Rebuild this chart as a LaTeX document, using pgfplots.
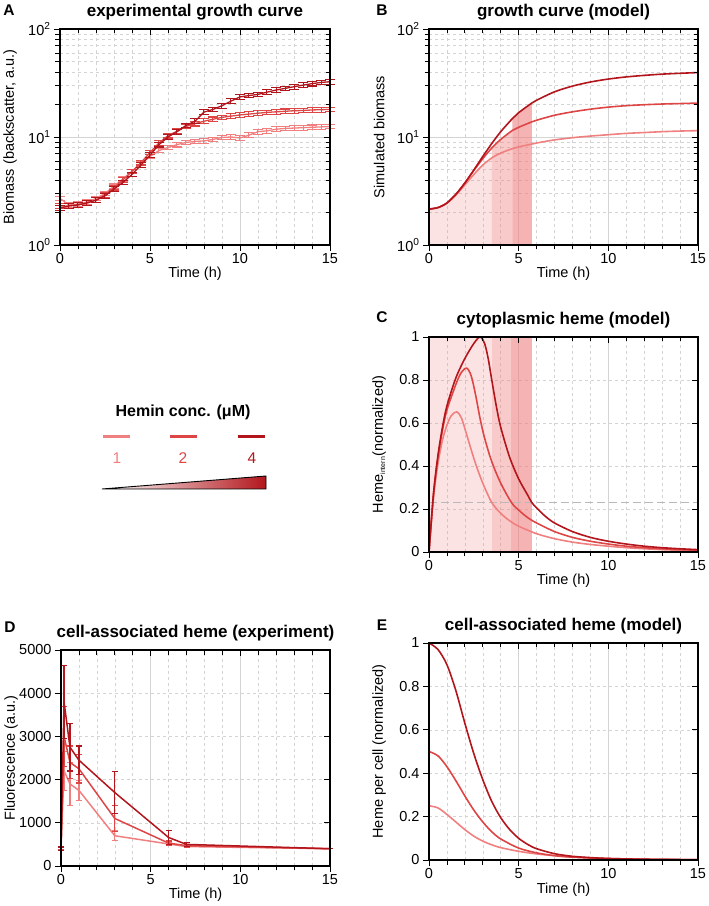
\documentclass[border=0pt]{standalone}
\usepackage{fontspec}
\setmainfont{Liberation Sans}
\usepackage{pgfplots}
\usepackage{pgfplotstable}
\pgfplotsset{compat=1.18}

\definecolor{cA}{RGB}{240,128,128}
\definecolor{cB}{RGB}{222,70,70}
\definecolor{cC}{RGB}{178,22,28}
\definecolor{gridc}{RGB}{212,212,212}
\definecolor{thr}{RGB}{185,185,185}

% ---------- Panel A data (t, value, relative error) ----------
\pgfplotstableread{
t v e
0 2.2 0.05
0.5 2.3 0.05
1 2.35 0.05
1.5 2.45 0.05
2 2.6 0.05
2.5 2.85 0.05
3 3.3 0.05
3.5 3.8 0.05
4 4.5 0.05
4.5 5.5 0.05
5 6.8 0.05
5.5 8.5 0.05
6 10.0 0.05
6.5 11.2 0.05
7 12.8 0.05
7.5 14.0 0.05
8 17.0 0.05
8.5 18.0 0.05
9 19.5 0.05
9.5 21.5 0.05
10 23.5 0.05
10.5 24.2 0.05
11 24.8 0.05
11.5 26.0 0.05
12 27.2 0.05
12.5 28.2 0.05
13 29.2 0.05
13.5 30.2 0.05
14 31.2 0.05
14.5 32.0 0.05
15 32.5 0.05
}\Adark
\pgfplotstableread{
t v e
0 2.3 0.05
0.5 2.3 0.05
1 2.35 0.05
1.5 2.45 0.05
2 2.6 0.05
2.5 2.9 0.05
3 3.4 0.05
3.5 4.0 0.05
4 4.8 0.05
4.5 5.8 0.05
5 7.2 0.05
5.5 8.8 0.05
6 10.3 0.05
6.5 11.3 0.05
7 12.5 0.05
7.5 13.3 0.05
8 14.0 0.05
8.5 14.6 0.05
9 15.2 0.05
9.5 15.6 0.05
10 16.0 0.05
10.5 16.3 0.05
11 16.6 0.05
11.5 16.9 0.05
12 17.1 0.05
12.5 17.3 0.05
13 17.5 0.05
13.5 17.6 0.05
14 17.8 0.05
14.5 17.9 0.05
15 18.0 0.05
}\Amed
\pgfplotstableread{
t v e
0 2.7 0.05
0.5 2.35 0.05
1 2.4 0.05
1.5 2.5 0.05
2 2.7 0.05
2.5 3.0 0.05
3 3.5 0.05
3.5 4.1 0.05
4 4.8 0.05
4.5 5.7 0.05
5 6.6 0.05
5.5 7.5 0.05
6 8.0 0.05
6.5 8.5 0.05
7 8.9 0.05
7.5 9.1 0.05
8 9.2 0.05
8.5 9.5 0.05
9 9.9 0.05
9.5 10.0 0.05
10 9.8 0.05
10.5 10.4 0.05
11 11.2 0.05
11.5 11.4 0.05
12 11.8 0.05
12.5 12.0 0.05
13 12.1 0.05
13.5 12.2 0.05
14 12.3 0.05
14.5 12.4 0.05
15 12.5 0.05
}\Alight

% ---------- Panel B data ----------
\pgfplotstableread{
t v
0 2.15
0.5 2.22
1 2.45
1.5 2.95
2 3.75
2.5 4.95
3 6.6
3.5 8.7
4 11.2
4.65 14.8
5 16.8
5.73 20.6
6 21.9
7 26.2
8 29.6
9 32.3
10 34.4
11 36.0
12 37.2
13 38.2
14 38.9
15 39.5
}\Bdark
\pgfplotstableread{
t v
0 2.15
0.5 2.22
1 2.45
1.5 2.95
2 3.75
2.5 4.9
3 6.3
3.5 7.9
4 9.5
4.65 11.5
5 12.3
5.73 13.8
6 14.3
7 15.9
8 17.1
9 18.1
10 18.9
11 19.5
12 19.9
13 20.2
14 20.4
15 20.6
}\Bmed
\pgfplotstableread{
t v
0 2.15
0.5 2.22
1 2.44
1.5 2.9
2 3.6
2.5 4.5
3 5.5
3.5 6.4
4 7.1
4.65 7.8
5 8.1
5.73 8.6
6 8.8
7 9.4
8 9.85
9 10.2
10 10.5
11 10.8
12 11.0
13 11.2
14 11.35
15 11.45
}\Blight

% ---------- Panel C data ----------
\pgfplotstableread{
t v
0 0
0.25 0.27
0.5 0.45
0.75 0.58
1 0.68
1.5 0.81
2 0.9
2.5 0.97
2.85 1.0
3.1 0.97
3.3 0.9
3.5 0.8
3.75 0.68
4 0.58
4.5 0.44
5 0.34
5.5 0.265
5.73 0.23
6 0.205
6.5 0.165
7 0.135
8 0.095
9 0.068
10 0.05
11 0.037
12 0.027
13 0.02
14 0.015
15 0.011
}\Cdark
\pgfplotstableread{
t v
0 0
0.25 0.27
0.5 0.44
0.75 0.565
1 0.66
1.5 0.78
1.8 0.835
2.1 0.855
2.35 0.82
2.6 0.73
2.85 0.62
3.1 0.53
3.5 0.42
4 0.32
4.6 0.23
5 0.195
5.5 0.16
6 0.135
7 0.095
8 0.068
9 0.05
10 0.037
11 0.027
12 0.02
13 0.015
14 0.011
15 0.008
}\Cmed
\pgfplotstableread{
t v
0 0
0.25 0.25
0.5 0.41
0.75 0.52
1 0.59
1.25 0.635
1.55 0.652
1.8 0.625
2.05 0.56
2.3 0.49
2.6 0.41
3 0.32
3.5 0.23
4 0.18
4.5 0.145
5 0.12
6 0.085
7 0.062
8 0.046
9 0.035
10 0.027
11 0.02
12 0.015
13 0.011
14 0.008
15 0.006
}\Clight

% ---------- Panel E data ----------
\pgfplotstableread{
t v
0 1.0
0.5 0.97
1 0.9
1.5 0.78
2 0.63
2.5 0.49
3 0.37
3.5 0.27
4 0.195
4.5 0.14
5 0.1
5.5 0.072
6 0.052
7 0.029
8 0.017
9 0.011
10 0.007
12 0.0035
15 0.0015
}\Edark
\pgfplotstableread{
t v
0 0.5
0.5 0.48
1 0.43
1.5 0.365
2 0.295
2.5 0.23
3 0.175
3.5 0.13
4 0.097
5 0.055
6 0.033
7 0.02
8 0.013
10 0.006
12 0.003
15 0.0012
}\Emed
\pgfplotstableread{
t v
0 0.25
0.5 0.24
1 0.21
1.5 0.175
2 0.14
2.5 0.11
3 0.087
3.5 0.07
4 0.057
5 0.04
6 0.028
7 0.02
8 0.014
10 0.007
12 0.0035
15 0.0012
}\Elight

\pgfkeys{/pgf/number format/assume math mode=true, /pgf/number format/1000 sep={}}

\pgfplotsset{
  myframe/.style={
    scale only axis,
    anchor=south west,
    xmin=0, xmax=15,
    xtick={0,5,10,15},
    minor x tick num=4,
    axis line style={line width=1.1pt},
    major tick style={black, line width=0.9pt},
    minor tick style={black, line width=0.8pt},
    major tick length=6pt, minor tick length=4.5pt,
    clip=false,
  },
  mypanel/.style={
    myframe,
    tick align=outside,
    xtick pos=left, ytick pos=left,
    xmajorgrids, xminorgrids,
    major grid style={gridc, line width=0.6pt},
    minor grid style={gridc, dash pattern=on 3pt off 3pt, line width=0.5pt},
    tick label style={font=\fontsize{14.5}{16}\selectfont},
    xticklabel style={yshift=1pt},
    label style={font=\fontsize{14.5}{16}\selectfont},
    every axis title/.style={at={(axis description cs:0.5,1.078)}, anchor=center,
      font=\bfseries\fontsize{17}{19}\selectfont},
    xlabel={Time (h)},
    xlabel style={at={(axis description cs:0.5,-0.135)}, anchor=center},
    ylabel style={at={(axis description cs:-0.185,0.5)}, anchor=center},
  },
  mymirror/.style={
    myframe,
    tick align=inside,
    xtick pos=right, ytick pos=right,
    xticklabel={\relax}, yticklabel={\relax},
  },
  mylogticks/.style={
    ymin=1, ymax=100,
    ytick={1,10,100},
  },
  mylin/.style={
    ymin=0, ymax=1,
    ytick={0,0.2,0.4,0.6,0.8,1},
  },
  crv/.style={line width=1.6pt, smooth},
  ebA/.style={#1, line width=1.3pt, error bars/.cd, y dir=both, y explicit relative,
    error bar style={draw=#1, line width=1pt},
    error mark options={draw=#1, fill=#1, rotate=90, line width=1.1pt, mark size=5pt}},
  ebD/.style={#1, line width=1.5pt, error bars/.cd, y dir=both, y explicit,
    error bar style={draw=#1, line width=1.2pt},
    error mark options={draw=#1, fill=#1, rotate=90, line width=1.2pt, mark size=3pt}},
}

\begin{document}
\begin{tikzpicture}[x=1pt,y=1pt]
\path[use as bounding box] (0,0) rectangle (709,906);

% ================= A =================
\begin{axis}[ymode=log, mypanel, mylogticks, at={(60pt,661pt)}, width=270pt, height=216pt,
  yticklabels={10\textsuperscript{0},10\textsuperscript{1},10\textsuperscript{2}},
  ymajorgrids, yminorgrids,
  title={experimental growth curve},
  ylabel={Biomass (backscatter, a.u.)}]
\addplot[ebA=cA] table[x=t, y=v, y error=e] {\Alight};
\addplot[ebA=cB] table[x=t, y=v, y error=e] {\Amed};
\addplot[ebA=cC] table[x=t, y=v, y error=e] {\Adark};
\end{axis}
\begin{axis}[ymode=log, mymirror, mylogticks, at={(60pt,661pt)}, width=270pt, height=216pt]
\end{axis}

% ================= B =================
\begin{axis}[ymode=log, mypanel, mylogticks, at={(429pt,661pt)}, width=269pt, height=216pt,
  yticklabels={10\textsuperscript{0},10\textsuperscript{1},10\textsuperscript{2}},
  ymajorgrids, yminorgrids,
  title={growth curve (model)},
  ylabel={Simulated biomass}]
\addplot[draw=none, fill=cA, fill opacity=0.22] coordinates
  {(0,1) (0,2.15) (0.5,2.22) (1,2.44) (1.5,2.9) (2,3.6) (2.5,4.5) (3,5.5) (3.5,6.4) (3.5,1)} -- cycle;
\addplot[draw=none, fill=cA, fill opacity=0.42] coordinates
  {(3.5,1) (3.5,7.9) (4,9.5) (4.65,11.5) (4.65,1)} -- cycle;
\addplot[draw=none, fill=cA, fill opacity=0.6] coordinates
  {(4.65,1) (4.65,14.8) (5,16.8) (5.73,20.6) (5.73,1)} -- cycle;
\addplot[cA, crv] table[x=t,y=v] {\Blight};
\addplot[cB, crv] table[x=t,y=v] {\Bmed};
\addplot[cC, crv] table[x=t,y=v] {\Bdark};
\end{axis}
\begin{axis}[ymode=log, mymirror, mylogticks, at={(429pt,661pt)}, width=269pt, height=216pt]
\end{axis}

% ================= C =================
\begin{axis}[mypanel, mylin, at={(429pt,354pt)}, width=269pt, height=215pt,
  minor ytick={0.2,0.4,0.6,0.8}, yminorgrids,
  title={cytoplasmic heme (model)},
  ylabel={Heme\textsubscript{\fontsize{7}{7}\selectfont intern}(normalized)}]
\addplot[draw=none, fill=cA, fill opacity=0.22] coordinates {(0,0) (0,1) (3.5,1) (3.5,0)} -- cycle;
\addplot[draw=none, fill=cA, fill opacity=0.42] coordinates {(3.5,0) (3.5,1) (4.6,1) (4.6,0)} -- cycle;
\addplot[draw=none, fill=cA, fill opacity=0.6] coordinates {(4.6,0) (4.6,1) (5.73,1) (5.73,0)} -- cycle;
\addplot[thr, line width=1.3pt, dash pattern=on 8pt off 4pt] coordinates {(0,0.23) (15,0.23)};
\addplot[cA, crv] table[x=t,y=v] {\Clight};
\addplot[cB, crv] table[x=t,y=v] {\Cmed};
\addplot[cC, crv] table[x=t,y=v] {\Cdark};
\end{axis}
\begin{axis}[mymirror, mylin, at={(429pt,354pt)}, width=269pt, height=215pt]
\end{axis}

% ================= D =================
\begin{axis}[mypanel, at={(61pt,40pt)}, width=269pt, height=216pt,
  ymin=0, ymax=5000, ytick={0,1000,2000,3000,4000,5000},
  minor ytick={1000,2000,3000,4000}, yminorgrids,
  title={cell-associated heme (experiment)},
  ylabel={Fluorescence (a.u.)}]
\addplot[ebD=cA]
  coordinates {(0,400) +- (0,30) (0.17,2200) +- (0,450) (0.5,1900) +- (0,500) (1,1750) +- (0,230)
               (3,700) +- (0,110) (6,510) +- (0,40) (7,450) +- (0,30) (15,400) +- (0,0)};
\addplot[ebD=cB]
  coordinates {(0,420) +- (0,40) (0.17,3000) +- (0,700) (0.5,2400) +- (0,380) (1,2250) +- (0,330)
               (3,1100) +- (0,300) (6,530) +- (0,50) (7,470) +- (0,30) (15,400) +- (0,0)};
\addplot[ebD=cC]
  coordinates {(0,400) +- (0,40) (0.17,3800) +- (0,850) (0.5,2750) +- (0,550) (1,2450) +- (0,330)
               (3,1700) +- (0,480) (6,660) +- (0,170) (7,500) +- (0,40) (15,400) +- (0,0)};
\end{axis}
\begin{axis}[mymirror, at={(61pt,40pt)}, width=269pt, height=216pt,
  ymin=0, ymax=5000, ytick={0,1000,2000,3000,4000,5000}]
\end{axis}

% ================= E =================
\begin{axis}[mypanel, mylin, at={(429pt,46pt)}, width=269pt, height=217pt,
  minor ytick={0.2,0.4,0.6,0.8}, yminorgrids,
  title={cell-associated heme (model)},
  ylabel={Heme per cell (normalized)}]
\addplot[cA, crv] table[x=t,y=v] {\Elight};
\addplot[cB, crv] table[x=t,y=v] {\Emed};
\addplot[cC, crv] table[x=t,y=v] {\Edark};
\end{axis}
\begin{axis}[mymirror, mylin, at={(429pt,46pt)}, width=269pt, height=217pt]
\end{axis}

% ================= panel letters =================
\begin{scope}[every node/.style={font=\bfseries\fontsize{15.5}{16}\selectfont}]
\node at (9,896) {A};
\node at (382,896) {B};
\node at (382,589) {C};
\node at (10,279) {D};
\node at (382,281) {E};
\end{scope}

% ================= legend =================
\node[font=\bfseries\fontsize{16}{18}\selectfont] at (183,494) {Hemin conc. (μM)};
\draw[cA, line width=3pt] (103,469) -- (130,469);
\draw[cB, line width=3pt] (170,469) -- (197,469);
\draw[cC, line width=3pt] (238,469) -- (265,469);
\node[text=cA, font=\fontsize{15.5}{16}\selectfont] at (117,448) {1};
\node[text=cB, font=\fontsize{15.5}{16}\selectfont] at (183,448) {2};
\node[text=cC, font=\fontsize{15.5}{16}\selectfont] at (252,448) {4};
\shade[left color=white, right color=cC] (102,417) -- (266,430) -- (266,417) -- cycle;
\draw[line width=0.9pt, line join=miter] (102,417) -- (266,430) -- (266,417) -- cycle;
\end{tikzpicture}
\end{document}
